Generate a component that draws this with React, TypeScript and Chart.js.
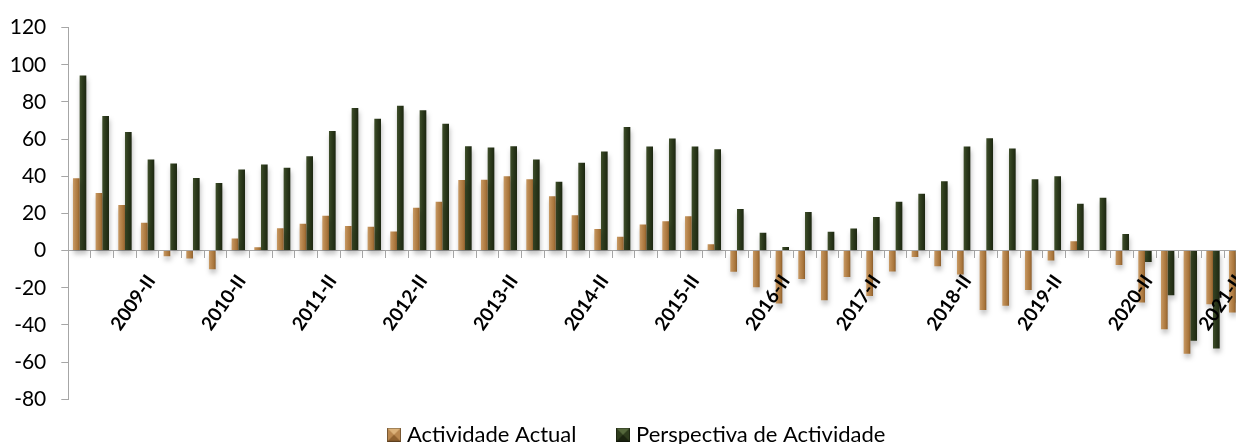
import React, { useEffect, useRef, useState } from 'react';
import { Chart, registerables } from 'chart.js';

Chart.register(...registerables);

// ---------- data ----------
const quarters = [
  '2008-III', '2008-IV',
  '2009-I', '2009-II', '2009-III', '2009-IV',
  '2010-I', '2010-II', '2010-III', '2010-IV',
  '2011-I', '2011-II', '2011-III', '2011-IV',
  '2012-I', '2012-II', '2012-III', '2012-IV',
  '2013-I', '2013-II', '2013-III', '2013-IV',
  '2014-I', '2014-II', '2014-III', '2014-IV',
  '2015-I', '2015-II', '2015-III', '2015-IV',
  '2016-I', '2016-II', '2016-III', '2016-IV',
  '2017-I', '2017-II', '2017-III', '2017-IV',
  '2018-I', '2018-II', '2018-III', '2018-IV',
  '2019-I', '2019-II', '2019-III', '2019-IV',
  '2020-I', '2020-II', '2020-III', '2020-IV',
  '2021-I', '2021-II',
];

const actividadeActual = [
  39, 31, 24.5, 15, -3, -4.3, -10, 6.5, 1.8, 12,
  14.5, 18.7, 13.3, 12.8, 10.3, 23, 26.3, 38, 38.2, 40,
  38.4, 29.3, 19, 11.7, 7.5, 14, 15.8, 18.5, 3.4, -11.4,
  -19.7, -28.5, -15.3, -26.7, -14.2, -24.4, -11.2, -3.4, -8.4, -12.8,
  -32, -29.7, -21.2, -5.3, 5.1, 0, -7.7, -27.9, -42.3, -55.5,
  -28.8, -33.3,
];

const perspectivaActividade = [
  94.2, 72.5, 63.8, 49, 46.9, 39.1, 36.4, 43.7, 46.4, 44.6,
  50.8, 64.3, 76.8, 70.9, 78, 75.5, 68.3, 56.2, 55.5, 56.2,
  49, 37, 47.3, 53.3, 66.5, 56, 60.3, 56, 54.6, 22.4,
  9.6, 1.9, 20.8, 10.1, 11.9, 18.1, 26.3, 30.6, 37.3, 56,
  60.4, 54.9, 38.4, 40, 25.2, 28.4, 8.9, -6.1, -24, -48.5,
  -52.6, -28,
];

const seriesNames = ['Actividade Actual', 'Perspectiva de Actividade'];
const yMin = -80;
const yMax = 120;
const yStep = 20;

// ---------- styling / geometry (viewport px) ----------
const FONT = 'Lato';
const VIEW_W = 1236;
const VIEW_H = 444;
const PLOT_LEFT = 68.3;
const PLOT_RIGHT = 1247;
const PLOT_TOP = 24.3;
const PLOT_BOTTOM = 399.3;
const PAD_RIGHT = 26;
const LEGEND_FONT = 22;
const LEGEND_BOX = 14;
const LEGEND_GAP = 6;
const LEGEND_BOX1_X = 387;
const LEGEND_BOX2_X = 616;
const LEGEND_TEXT_Y = 434.7;
const CAT_PCT = 0.59;
const X_ROTATION = 55;
const X_FONT = 19;
const X_LABEL_OFFSET = 3.5;
const X_PAD = 13;
const AXIS_COLOR = '#a6a6a6';

const ORANGE_STOPS: [number, string][] = [
  [0, '#c89a64'], [0.35, '#b9874f'], [0.75, '#a7743a'], [1, '#8a5c2b'],
];
const GREEN_STOPS: [number, string][] = [
  [0, '#3f4f2b'], [0.4, '#2e3c1d'], [1, '#1c2610'],
];

function computeGeom() {
  const c = document.createElement('canvas');
  const g = c.getContext('2d')!;
  g.font = `${LEGEND_FONT}px ${FONT}`;
  const t1 = g.measureText(seriesNames[0]).width;
  const t2 = g.measureText(seriesNames[1]).width;
  const half = LEGEND_FONT / 2;
  const legendH = VIEW_H - PLOT_BOTTOM;
  const P = LEGEND_TEXT_Y - PLOT_BOTTOM - half;
  const S = Math.max(1, LEGEND_BOX2_X - LEGEND_BOX1_X - half - t1 - P);
  const gx = half - LEGEND_GAP;
  const item1 = LEGEND_BOX1_X - (S + gx - LEGEND_BOX);
  const lineW = (S + half + t1) + (S + half + t2) + 2 * P;
  const D = 2 * item1 + lineW - P - PLOT_RIGHT;
  const padL = D >= 0 ? D : 0;
  const C = D >= 0 ? 0 : Math.round(-D);
  const W = Math.round(PLOT_RIGHT + C + PAD_RIGHT);
  return { P, S, gx, C, padL, W, legendH };
}

function makeMarker(S: number, gx: number, light: string, mid: string, dark: string) {
  const c = document.createElement('canvas');
  c.width = Math.max(LEGEND_BOX, Math.round(S + 2 * gx));
  c.height = LEGEND_BOX;
  const g = c.getContext('2d')!;
  const s = LEGEND_BOX, x = c.width - s, y = 0, cx = x + s / 2, cy = s / 2;
  g.fillStyle = mid;
  g.fillRect(x, y, s, s);
  g.fillStyle = light;
  g.beginPath(); g.moveTo(x, y); g.lineTo(x + s, y); g.lineTo(cx, cy); g.closePath(); g.fill();
  g.fillStyle = dark;
  g.beginPath(); g.moveTo(x, y + s); g.lineTo(x + s, y + s); g.lineTo(cx, cy); g.closePath(); g.fill();
  g.strokeStyle = 'rgba(0,0,0,0.35)';
  g.lineWidth = 1;
  g.strokeRect(x + 0.5, y + 0.5, s - 1, s - 1);
  return c;
}

function barGradient(ctx: any, stops: [number, string][]) {
  const chart = ctx.chart;
  const xs = chart.scales && chart.scales.x;
  if (!xs || ctx.type !== 'data') return stops[1][1];
  const n = quarters.length;
  const catW = (xs.right - xs.left) / n;
  const center = xs.getPixelForValue(ctx.dataIndex);
  const groupW = catW * CAT_PCT;
  const barW = groupW / 2;
  const left = center - groupW / 2 + ctx.datasetIndex * barW;
  const grad = chart.ctx.createLinearGradient(left, 0, left + barW, 0);
  stops.forEach(([o, col]) => grad.addColorStop(o, col));
  return grad;
}

const shadowPlugin = {
  id: 'barShadow',
  beforeDatasetsDraw(chart: any) {
    const c = chart.ctx;
    c.save();
    c.shadowColor = 'rgba(0,0,0,0.25)';
    c.shadowBlur = 5;
    c.shadowOffsetX = 1;
    c.shadowOffsetY = 4;
  },
  afterDatasetsDraw(chart: any) {
    chart.ctx.restore();
  },
};

export default function App() {
  const ref = useRef<HTMLCanvasElement>(null);
  const [geom] = useState(() => computeGeom());

  useEffect(() => {
    if (!ref.current) return;
    const { P, S, gx, C, padL, legendH } = geom;
    const markers = [
      makeMarker(S, gx, '#dcb27a', '#b9874f', '#8f612f'),
      makeMarker(S, gx, '#55683c', '#2e3c1d', '#1a230f'),
    ];
    const chart = new Chart(ref.current, {
      type: 'bar',
      data: {
        labels: quarters,
        datasets: [
          {
            label: seriesNames[0],
            data: actividadeActual,
            backgroundColor: (c: any) => barGradient(c, ORANGE_STOPS),
            borderWidth: 0,
            categoryPercentage: CAT_PCT,
            barPercentage: 1,
          },
          {
            label: seriesNames[1],
            data: perspectivaActividade,
            backgroundColor: (c: any) => barGradient(c, GREEN_STOPS),
            borderWidth: 0,
            categoryPercentage: CAT_PCT,
            barPercentage: 1,
          },
        ],
      },
      options: {
        responsive: false,
        maintainAspectRatio: false,
        devicePixelRatio: 1,
        animation: false,
        layout: { padding: { left: padL, right: PAD_RIGHT, top: PLOT_TOP, bottom: 0 } },
        scales: {
          x: {
            type: 'category',
            position: { y: 0 } as any,
            offset: true,
            grid: {
              offset: true,
              drawOnChartArea: false,
              drawTicks: true,
              tickLength: 7,
              color: AXIS_COLOR,
            },
            border: { display: true, color: AXIS_COLOR, width: 1 },
            ticks: {
              autoSkip: false,
              maxRotation: X_ROTATION,
              minRotation: X_ROTATION,
              labelOffset: X_LABEL_OFFSET,
              padding: X_PAD,
              z: 1,
              color: '#000000',
              font: { family: FONT, size: X_FONT, weight: 'bold' },
              callback: (_v: any, i: number) => (quarters[i].split('-')[1] === 'II' ? quarters[i] : ''),
            },
            afterCalculateLabelRotation: (s: any) => {
              s.labelRotation = X_ROTATION;
            },
            afterFit: (s: any) => {
              s.height = 0;
            },
          },
          y: {
            position: 'left',
            min: yMin,
            max: yMax,
            grid: {
              drawOnChartArea: false,
              drawTicks: true,
              tickLength: 7,
              color: AXIS_COLOR,
            },
            border: { display: true, color: AXIS_COLOR, width: 1 },
            ticks: {
              stepSize: yStep,
              padding: 15,
              color: '#000000',
              font: { family: FONT, size: 21 },
            },
            afterFit: (s: any) => {
              s.width = PLOT_LEFT + C - padL;
            },
          },
        },
        plugins: {
          tooltip: { enabled: false },
          legend: {
            display: true,
            position: 'bottom',
            maxHeight: legendH,
            labels: {
              usePointStyle: true,
              pointStyleWidth: S,
              padding: P,
              color: '#000000',
              font: { family: FONT, size: LEGEND_FONT },
              generateLabels: () =>
                seriesNames.map((name, i) => ({
                  text: name,
                  fillStyle: i === 0 ? '#b9874f' : '#2e3c1d',
                  strokeStyle: 'rgba(0,0,0,0)',
                  lineWidth: 0,
                  pointStyle: markers[i] as any,
                  hidden: false,
                  datasetIndex: i,
                  fontColor: '#000000',
                })),
            },
          },
        },
      } as any,
      plugins: [shadowPlugin],
    });
    return () => chart.destroy();
  }, [geom]);

  return (
    <div
      style={{
        position: 'fixed',
        left: 0,
        top: 0,
        width: VIEW_W,
        height: VIEW_H,
        overflow: 'hidden',
        background: '#ffffff',
      }}
    >
      <canvas
        ref={ref}
        width={geom.W}
        height={VIEW_H}
        style={{ position: 'absolute', left: -geom.C, top: 0, width: geom.W, height: VIEW_H }}
      />
    </div>
  );
}
